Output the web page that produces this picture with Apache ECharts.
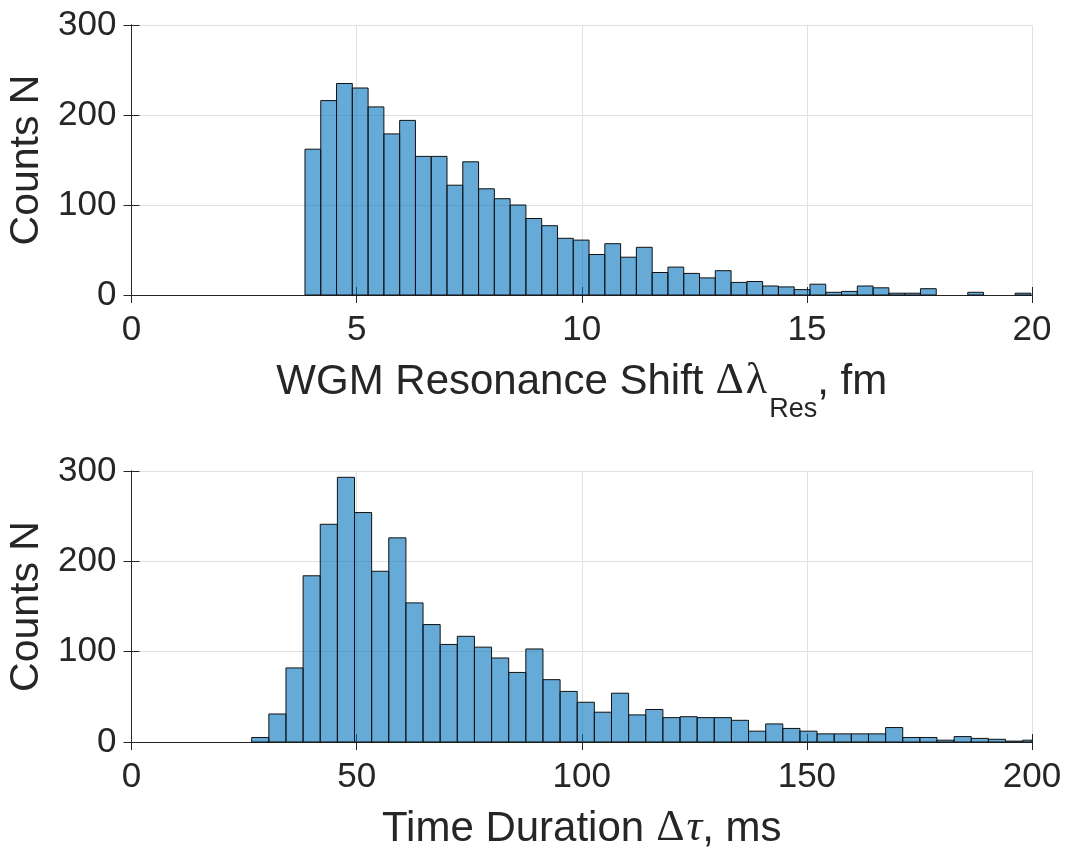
<!DOCTYPE html>
<html>
<head>
<meta charset="utf-8">
<script src="https://cdn.jsdelivr.net/npm/echarts@6/dist/echarts.min.js"></script>
<style>
  html, body { margin: 0; padding: 0; background: #ffffff; }
  #chart { width: 1067px; height: 850px; }
</style>
</head>
<body>
<div id="chart"></div>
<script>
// Histogram of WGM resonance shifts (fm): first bin edge, bin width, counts per bin
const shiftBinStart = 3.853;
const shiftBinWidth = 0.3505;
const shiftCounts = [162, 216, 235, 230, 209, 179, 194, 154, 154, 122, 148, 118, 107, 100, 85, 77,
                     63, 61, 45, 57, 42, 53, 25, 31, 24, 19, 27, 14, 15, 10, 9, 6,
                     12, 3, 4, 10, 8, 2, 2, 7, 0, 0, 3, 0, 0, 2];

// Histogram of event time durations (ms)
const durationBinStart = 26.7;
const durationBinWidth = 3.805;
const durationCounts = [5, 31, 82, 184, 241, 293, 254, 189, 226, 154, 130, 108, 117, 105, 93, 77,
                        103, 69, 56, 44, 33, 54, 30, 36, 27, 28, 27, 27, 24, 12, 20, 15,
                        12, 9, 9, 9, 9, 16, 5, 5, 2, 6, 4, 3, 1, 2];

// Axis ranges and tick steps
const shiftAxis = { min: 0, max: 20, interval: 5 };
const durationAxis = { min: 0, max: 200, interval: 50 };
const countAxis = { min: 0, max: 300, interval: 100 };

const TEXT = '#262626';
const AXIS = '#262626';
const GRID = '#e0e0e0';
const FILL = 'rgba(0,114,189,0.6)';
const FONT = 'Liberation Sans, Arial, sans-serif';
const SERIF = 'Liberation Serif, serif';

function toBins(start, width, counts) {
  return counts.map((c, i) => [start + i * width, start + (i + 1) * width, c]);
}

function renderBin(params, api) {
  const count = api.value(2);
  if (!count) return;
  const p0 = api.coord([api.value(0), count]);
  const p1 = api.coord([api.value(1), 0]);
  const cs = params.coordSys;
  const rect = echarts.graphic.clipRectByRect(
    { x: p0[0], y: p0[1], width: p1[0] - p0[0], height: p1[1] - p0[1] },
    { x: cs.x, y: cs.y, width: cs.width, height: cs.height }
  );
  if (!rect) return;
  return {
    type: 'rect',
    shape: rect,
    style: { fill: FILL, stroke: '#111111', lineWidth: 1 }
  };
}

// Rich-text styles for the x-axis titles; the subscript sits ~22px below the baseline
const titleRich = {
  n:   { color: TEXT, fontSize: 42, fontFamily: FONT, lineHeight: 42, padding: [0, 0, 20, 0], verticalAlign: 'bottom' },
  d:   { color: TEXT, fontSize: 44, fontFamily: SERIF, lineHeight: 42, padding: [0, 2, 20, 12], verticalAlign: 'bottom' },
  g:   { color: TEXT, fontSize: 44, fontFamily: SERIF, lineHeight: 42, padding: [0, 0, 20, 0], verticalAlign: 'bottom' },
  gi:  { color: TEXT, fontSize: 44, fontFamily: SERIF, fontStyle: 'italic', lineHeight: 42, padding: [0, 0, 20, 0], verticalAlign: 'bottom' },
  sub: { color: TEXT, fontSize: 27, fontFamily: FONT, lineHeight: 27, padding: [0, 0, 0, 2], verticalAlign: 'bottom' }
};

function xAxes(range, gridIndex, name) {
  return [
    {
      type: 'value', gridIndex, position: 'bottom',
      min: range.min, max: range.max, interval: range.interval,
      axisLine: { show: true, lineStyle: { color: AXIS, width: 1 } },
      axisTick: { show: true, inside: true, length: 8, lineStyle: { color: AXIS } },
      axisLabel: { color: TEXT, fontSize: 35, fontFamily: FONT, margin: 18 },
      splitLine: { show: true, lineStyle: { color: GRID, width: 1 } },
      name, nameLocation: 'middle', nameGap: 86,
      nameTextStyle: { color: TEXT, fontSize: 42, fontFamily: FONT, rich: titleRich }
    },
    {
      type: 'value', gridIndex, position: 'top',
      min: range.min, max: range.max, interval: range.interval,
      axisLine: { show: true, lineStyle: { color: AXIS, width: 1 } },
      axisTick: { show: true, inside: true, length: 8, lineStyle: { color: AXIS } },
      axisLabel: { show: false },
      splitLine: { show: false }
    }
  ];
}

function yAxes(gridIndex) {
  return [
    {
      type: 'value', gridIndex, position: 'left',
      min: countAxis.min, max: countAxis.max, interval: countAxis.interval,
      axisLine: { show: true, lineStyle: { color: AXIS, width: 1 } },
      axisTick: { show: true, inside: true, length: 8, lineStyle: { color: AXIS } },
      axisLabel: { color: TEXT, fontSize: 35, fontFamily: FONT, margin: 15 },
      splitLine: { show: true, lineStyle: { color: GRID, width: 1 } },
      name: 'Counts N', nameLocation: 'middle', nameGap: 83,
      nameTextStyle: { color: TEXT, fontSize: 41, fontFamily: FONT }
    },
    {
      type: 'value', gridIndex, position: 'right',
      min: countAxis.min, max: countAxis.max, interval: countAxis.interval,
      axisLine: { show: true, lineStyle: { color: AXIS, width: 1 } },
      axisTick: { show: true, inside: true, length: 8, lineStyle: { color: AXIS } },
      axisLabel: { show: false },
      splitLine: { show: false }
    }
  ];
}

const chart = echarts.init(document.getElementById('chart'), null, { renderer: 'canvas' });

chart.setOption({
  animation: false,
  backgroundColor: '#ffffff',
  grid: [
    { left: 131.5, right: 35, top: 25, height: 270, outerBoundsMode: 'none', containLabel: false },
    { left: 131.5, right: 35, top: 471, height: 271, outerBoundsMode: 'none', containLabel: false }
  ],
  xAxis: [
    ...xAxes(shiftAxis, 0, '{n|WGM Resonance Shift}{d|Δ}{g|λ}{sub|Res}{n|, fm}'),
    ...xAxes(durationAxis, 1, '{n|Time Duration}{d|Δ}{gi|τ}{n|, ms}')
  ],
  yAxis: [
    ...yAxes(0),
    ...yAxes(1)
  ],
  series: [
    {
      type: 'custom', xAxisIndex: 0, yAxisIndex: 0,
      renderItem: renderBin,
      encode: { x: [0, 1], y: 2 },
      data: toBins(shiftBinStart, shiftBinWidth, shiftCounts)
    },
    {
      type: 'custom', xAxisIndex: 2, yAxisIndex: 2,
      renderItem: renderBin,
      encode: { x: [0, 1], y: 2 },
      data: toBins(durationBinStart, durationBinWidth, durationCounts)
    }
  ]
});
</script>
</body>
</html>
